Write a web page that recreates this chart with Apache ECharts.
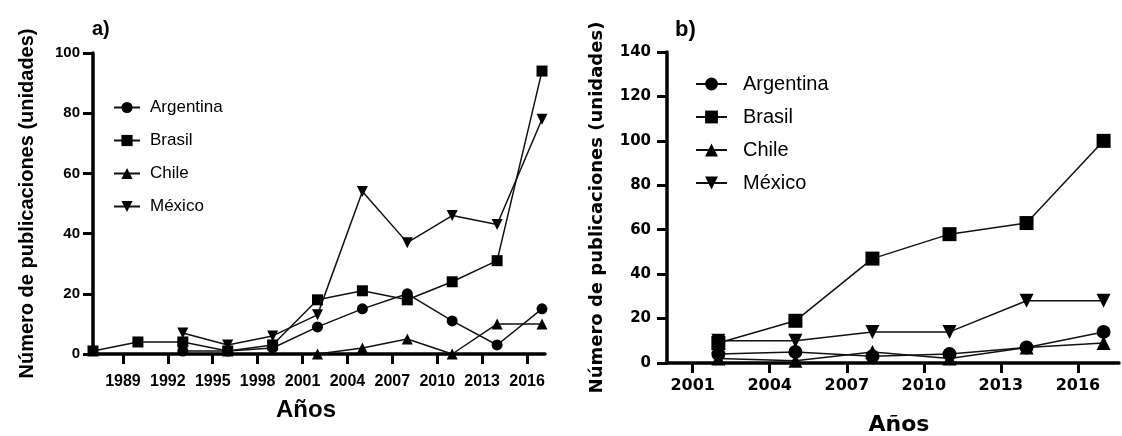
<!DOCTYPE html>
<html>
<head>
<meta charset="utf-8">
<script src="https://cdn.jsdelivr.net/npm/echarts@6/dist/echarts.min.js"></script>
<style>
  html, body { margin: 0; padding: 0; background: #fff; }
  #chart { width: 1122px; height: 436px; }
</style>
</head>
<body>
<div id="chart"></div>
<script>
  // panel a) 1987-2017
  var yearsA = [1987, 1990, 1993, 1996, 1999, 2002, 2005, 2008, 2011, 2014, 2017];
  var argentinaA = [null, null, 1, 1, 2, 9, 15, 20, 11, 3, 15];
  var brasilA = [1, 4, 4, 1, 3, 18, 21, 18, 24, 31, 94];
  var chileA = [null, null, null, null, null, 0, 2, 5, 0, 10, 10];
  var mexicoA = [null, null, 7, 3, 6, 13, 54, 37, 46, 43, 78];
  var ticksA = [1989, 1992, 1995, 1998, 2001, 2004, 2007, 2010, 2013, 2016];

  // panel b) 2002-2017
  var yearsB = [2002, 2005, 2008, 2011, 2014, 2017];
  var argentinaB = [4, 5, 3, 4, 7, 14];
  var brasilB = [9, 19, 47, 58, 63, 100];
  var chileB = [2, 1, 5, 2, 7, 9];
  var mexicoB = [10, 10, 14, 14, 28, 28];
  var ticksB = [2001, 2004, 2007, 2010, 2013, 2016];

  var paises = ['Argentina', 'Brasil', 'Chile', 'México'];
  var simbolos = ['circle', 'rect', 'triangle', 'path://M0,0 L10,0 L5,9 Z'];

  function pares(years, vals) {
    var out = [];
    for (var i = 0; i < years.length; i++) {
      if (vals[i] !== null) out.push([years[i], vals[i]]);
    }
    return out;
  }

  function serie(idx, nombre, years, vals, size) {
    return {
      name: nombre,
      type: 'line',
      xAxisIndex: idx,
      yAxisIndex: idx,
      data: pares(years, vals),
      symbol: simbolos[paises.indexOf(nombre)],
      symbolSize: size,
      clip: false,
      lineStyle: { color: '#111', width: 1.5 },
      itemStyle: { color: '#000' },
      z: 5
    };
  }

  var fontA = 'Liberation Sans, Arial, sans-serif';
  var fontB = 'DejaVu Sans, sans-serif';

  function ejeX(g, min, max, ticks, font, size, margin, nameSize, nameGap, namePad) {
    return {
      type: 'value', gridIndex: g, min: min, max: max,
      name: 'Años', nameLocation: 'middle', nameGap: nameGap,
      nameTextStyle: { fontFamily: font, fontWeight: 'bold', fontSize: nameSize, color: '#000', padding: namePad },
      axisLine: { lineStyle: { color: '#000', width: 3.5 } },
      axisTick: { show: true, customValues: ticks, length: 10, lineStyle: { color: '#000', width: 3 } },
      axisLabel: { customValues: ticks, margin: margin, color: '#000', fontWeight: 'bold', fontFamily: font, fontSize: size,
        formatter: function (v) { return String(v); } },
      splitLine: { show: false }
    };
  }

  function ejeY(g, max, font, size, margin, nameSize, nameGap) {
    return {
      type: 'value', gridIndex: g, min: 0, max: max, interval: 20,
      name: 'Número de publicaciones (unidades)', nameLocation: 'middle', nameGap: nameGap,
      nameTextStyle: { fontFamily: font, fontWeight: 'bold', fontSize: nameSize, color: '#000' },
      axisLine: { show: true, lineStyle: { color: '#000', width: 3.5 } },
      axisTick: { show: true, length: 10, lineStyle: { color: '#000', width: 3 } },
      axisLabel: { margin: margin, color: '#000', fontWeight: 'bold', fontFamily: font, fontSize: size },
      splitLine: { show: false }
    };
  }

  var chart = echarts.init(document.getElementById('chart'));
  var option = {
    animation: false,
    backgroundColor: '#fff',
    title: [
      { text: 'a)', left: 87, top: 14, textStyle: { fontFamily: fontA, fontWeight: 'bold', fontSize: 20, color: '#000' } },
      { text: 'b)', left: 670, top: 14, textStyle: { fontFamily: fontA, fontWeight: 'bold', fontSize: 22, color: '#000' } }
    ],
    legend: [
      {
        orient: 'vertical', left: 108, top: 94, itemWidth: 26, itemHeight: 14, itemGap: 16,
        data: paises,
        textStyle: { fontFamily: fontA, fontSize: 17, color: '#000', padding: [0, 0, 0, 5] }
      },
      {
        orient: 'vertical', left: 690, top: 69, itemWidth: 31, itemHeight: 16, itemGap: 13,
        data: paises,
        textStyle: { fontFamily: fontA, fontSize: 20, color: '#000', padding: [0, 0, 0, 11] }
      }
    ],
    grid: [
      { left: 93, top: 53, width: 452, height: 301, outerBoundsMode: 'none' },
      { left: 667, top: 52, width: 452, height: 311, outerBoundsMode: 'none' }
    ],
    xAxis: [
      ejeX(0, 1987, 2017.2, ticksA, fontA, 16, 20, 24, 44, [0, 26, 0, 0]),
      ejeX(1, 2000, 2017.6, ticksB, fontB, 16, 15, 22, 51, [0, 0, 0, 12])
    ],
    yAxis: [
      ejeY(0, 100, fontA, 15, 13, 20, 56),
      ejeY(1, 140, fontB, 15, 16, 18, 61)
    ],
    series: [
      serie(0, 'Argentina', yearsA, argentinaA, 11),
      serie(0, 'Brasil', yearsA, brasilA, 11),
      serie(0, 'Chile', yearsA, chileA, 11),
      serie(0, 'México', yearsA, mexicoA, 11),
      serie(1, 'Argentina', yearsB, argentinaB, 14),
      serie(1, 'Brasil', yearsB, brasilB, 14),
      serie(1, 'Chile', yearsB, chileB, 14),
      serie(1, 'México', yearsB, mexicoB, 14)
    ]
  };
  chart.setOption(option);
</script>
</body>
</html>
